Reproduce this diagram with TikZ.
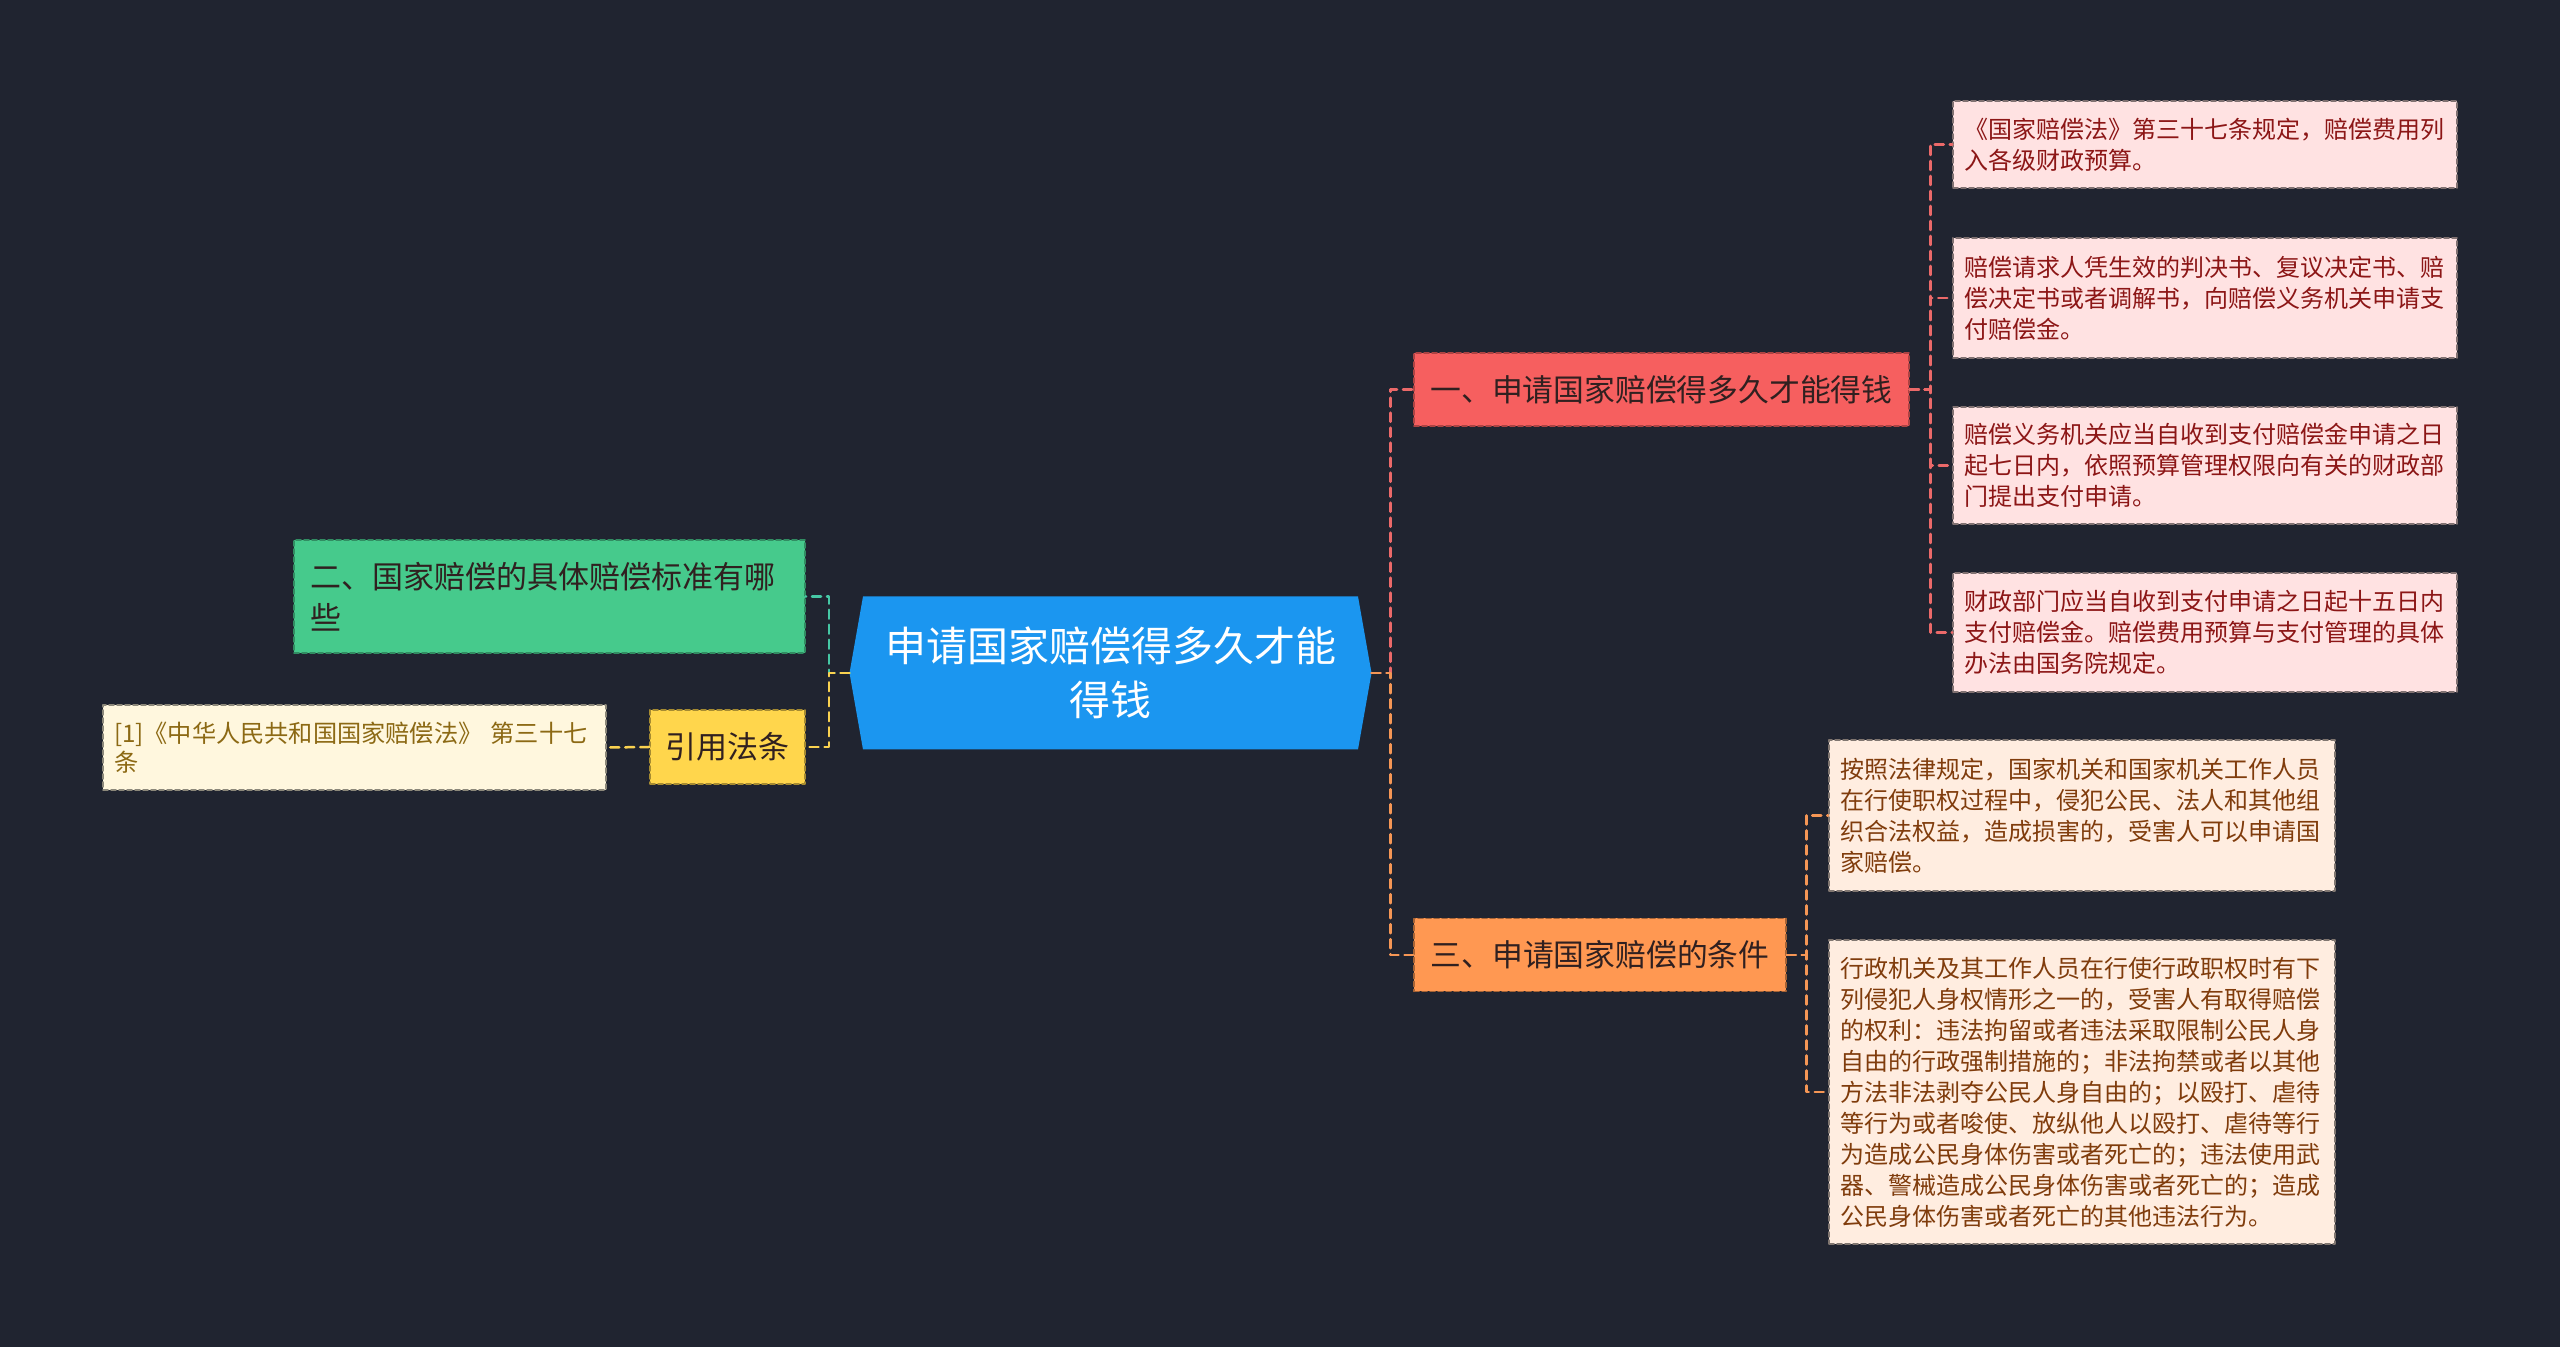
\documentclass[tikz,border=0pt]{standalone}
\usepackage{fontspec}
\setmainfont{Noto Sans CJK SC}
\usetikzlibrary{calc}
\definecolor{bg}{RGB}{32,36,48}
\definecolor{rootblue}{RGB}{27,150,240}
\definecolor{redfill}{RGB}{246,95,95}
\definecolor{orangefill}{RGB}{255,152,82}
\definecolor{greenfill}{RGB}{70,202,140}
\definecolor{yellowfill}{RGB}{255,214,76}
\definecolor{creamfill}{RGB}{255,247,222}
\definecolor{pinkfill}{RGB}{255,226,226}
\definecolor{peachfill}{RGB}{255,237,224}
\definecolor{ink}{RGB}{48,32,32}
\definecolor{citeolive}{RGB}{140,105,20}
\definecolor{leafred}{RGB}{140,22,22}
\definecolor{leafbrown}{RGB}{128,60,12}
\definecolor{redlink}{RGB}{235,105,105}
\definecolor{orangelink}{RGB}{245,150,85}
\definecolor{greenlink}{RGB}{70,200,165}
\definecolor{yellowlink}{RGB}{250,210,80}

\begin{document}
\begin{tikzpicture}[x=1pt,y=1pt,line cap=round,line join=round,
  box/.style={draw,line width=1.5pt,dash pattern=on 5pt off 3pt,inner ysep=0pt},
  branchbox/.style={box,text=ink,minimum height=73pt,font=\fontsize{30.8}{36}\selectfont},
  leafbox/.style={box,align=left,inner xsep=11pt,text width=482pt,font=\fontsize{24}{31}\selectfont},
  link/.style={line width=2.5pt,dash pattern=on 9pt off 6pt}]
\useasboundingbox (0,0) rectangle (2560,1347);
\fill[bg] (0,0) rectangle (2560,1347);
% centre
\coordinate (rootC) at (1110.5,674);
\path[fill=rootblue] ($(rootC)+(-247.5,76.5)$) -- ($(rootC)+(247.5,76.5)$) -- ($(rootC)+(261,0)$)
  -- ($(rootC)+(247.5,-76.5)$) -- ($(rootC)+(-247.5,-76.5)$) -- ($(rootC)+(-261,0)$) -- cycle;
\node[text=white,align=center,font=\fontsize{41}{54}\selectfont] (root) at (rootC) {申请国家赔偿得多久才能\\得钱};
\coordinate (rootR) at ($(rootC)+(261,0)$);
\coordinate (rootL) at ($(rootC)+(-261,0)$);
% branches
\node[branchbox,fill=redfill,draw=redfill!70!black,minimum width=495pt] (b1) at (1661.5,957.5) {一、申请国家赔偿得多久才能得钱};
\node[branchbox,fill=orangefill,draw=orangefill!65!black,minimum width=372pt] (b3) at (1600,392) {三、申请国家赔偿的条件};
\node[box,fill=greenfill,draw=greenfill!70!black,text=ink,align=left,text width=479pt,inner xsep=16pt,
  minimum height=113pt,font=\fontsize{31}{41}\selectfont] (b2) at (549.5,750.5) {二、国家赔偿的具体赔偿标准有哪\\些};
\node[branchbox,fill=yellowfill,draw=yellowfill!65!black,minimum width=155pt,minimum height=74pt,
  font=\fontsize{31}{36}\selectfont] (law) at (727.5,600) {引用法条};
\node[box,fill=creamfill,draw=creamfill!55!black,text=citeolive,align=left,text width=481pt,inner xsep=11pt,
  minimum height=85pt,font=\fontsize{24.2}{29}\selectfont] (cite) at (354.5,599.5) {[1]《中华人民共和国国家赔偿法》 第三十七\\条};
% leaves of branch one
\node[leafbox,fill=pinkfill,draw=pinkfill!50!black,text=leafred,minimum height=87pt] (l1) at (2205,1202.5)
  {《国家赔偿法》第三十七条规定，赔偿费用列\\入各级财政预算。};
\node[leafbox,fill=pinkfill,draw=pinkfill!50!black,text=leafred,minimum height=120pt] (l2) at (2205,1049)
  {赔偿请求人凭生效的判决书、复议决定书、赔\\偿决定书或者调解书，向赔偿义务机关申请支\\付赔偿金。};
\node[leafbox,fill=pinkfill,draw=pinkfill!50!black,text=leafred,minimum height=117pt] (l3) at (2205,881.5)
  {赔偿义务机关应当自收到支付赔偿金申请之日\\起七日内，依照预算管理权限向有关的财政部\\门提出支付申请。};
\node[leafbox,fill=pinkfill,draw=pinkfill!50!black,text=leafred,minimum height=119pt] (l4) at (2205,714.5)
  {财政部门应当自收到支付申请之日起十五日内\\支付赔偿金。赔偿费用预算与支付管理的具体\\办法由国务院规定。};
% leaves of branch three
\node[leafbox,fill=peachfill,draw=peachfill!50!black,text=leafbrown,text width=484pt,minimum height=151pt] (o1) at (2082,531.5)
  {按照法律规定，国家机关和国家机关工作人员\\在行使职权过程中，侵犯公民、法人和其他组\\织合法权益，造成损害的，受害人可以申请国\\家赔偿。};
\node[leafbox,fill=peachfill,draw=peachfill!50!black,text=leafbrown,text width=484pt,minimum height=304pt] (o2) at (2082,255)
  {行政机关及其工作人员在行使行政职权时有下\\列侵犯人身权情形之一的，受害人有取得赔偿\\的权利：违法拘留或者违法采取限制公民人身\\自由的行政强制措施的；非法拘禁或者以其他\\方法非法剥夺公民人身自由的；以殴打、虐待\\等行为或者唆使、放纵他人以殴打、虐待等行\\为造成公民身体伤害或者死亡的；违法使用武\\器、警械造成公民身体伤害或者死亡的；造成\\公民身体伤害或者死亡的其他违法行为。};
% connectors
\draw[link,redlink] (rootR) -| ($(b1.west)+(-23,0)$) -- (b1.west);
\draw[link,orangelink] (rootR) -| ($(b3.west)+(-23,0)$) -- (b3.west);
\draw[link,greenlink] (rootL) -| ($(b2.east)+(23,0)$) -- (b2.east);
\draw[link,yellowlink] (rootL) -| ($(law.east)+(23,0)$) -- (law.east);
\draw[link,yellowlink] (law.west) -- (cite.east);
\foreach \leaf in {l1,l2,l3,l4}
  \draw[link,redlink] (b1.east) -| ($(\leaf.west)+(-22,0)$) -- (\leaf.west);
\foreach \leaf in {o1,o2}
  \draw[link,orangelink] (b3.east) -| ($(\leaf.west)+(-22,0)$) -- (\leaf.west);
\end{tikzpicture}
\end{document}
